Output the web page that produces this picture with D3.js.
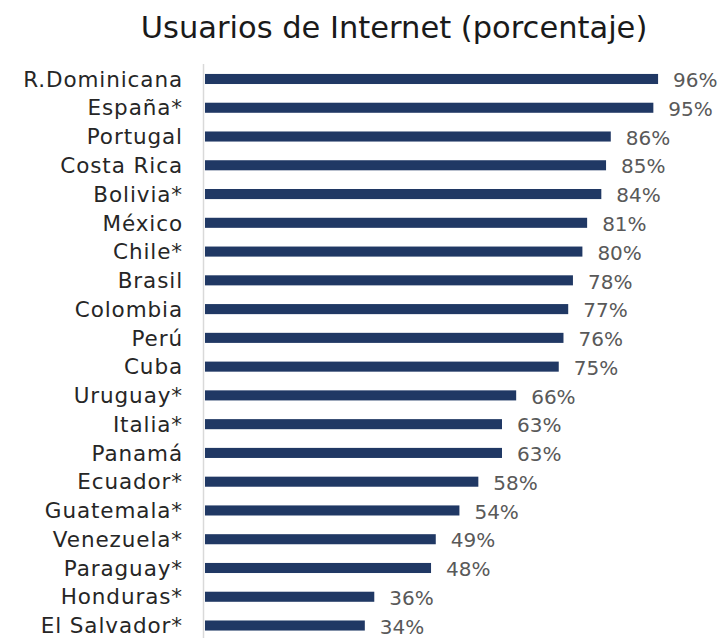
<!DOCTYPE html>
<html>
<head>
<meta charset="utf-8">
<script src="https://cdn.jsdelivr.net/npm/d3@7"></script>
<style>
  body { margin: 0; background: #fff; }
  svg { display: block; font-family: "DejaVu Sans", sans-serif; }
</style>
</head>
<body>
<div class="container"></div>
<script>
// 数据
const countries = ["R.Dominicana", "España*", "Portugal", "Costa Rica", "Bolivia*", "México", "Chile*",
  "Brasil", "Colombia", "Perú", "Cuba", "Uruguay*", "Italia*", "Panamá", "Ecuador*", "Guatemala*",
  "Venezuela*", "Paraguay*", "Honduras*", "El Salvador*"];
const values = [96, 95, 86, 85, 84, 81, 80, 78, 77, 76, 75, 66, 63, 63, 58, 54, 49, 48, 36, 34];
const title = "Usuarios de Internet (porcentaje)";

const width = 722, height = 638;

const svg = d3.select(".container")
  .append("svg")
  .attr("width", width)
  .attr("height", height);

// 比例尺
const x = d3.scaleLinear().domain([0, 100]).range([204, 204 + 473]);
const y = d3.scaleBand()
  .domain(countries)
  .range([64.6, 639.9])
  .paddingInner(0.65)
  .paddingOuter(0.325);

// 标题
svg.append("text")
  .attr("x", 394)
  .attr("y", 38)
  .attr("text-anchor", "middle")
  .attr("fill", "#1a1a1a")
  .style("font-size", "30.5px")
  .text(title);

// 纵轴线
svg.append("line")
  .attr("x1", x(0) - 0.5).attr("x2", x(0) - 0.5)
  .attr("y1", 64).attr("y2", height)
  .attr("stroke", "#d9d9d9")
  .attr("stroke-width", 1.5);

const rows = countries.map((c, i) => ({ c, v: values[i] }));

// 类别标签
svg.selectAll(".cat")
  .data(rows)
  .enter()
  .append("text")
  .attr("class", "cat")
  .attr("x", 183)
  .attr("y", d => y(d.c) + y.bandwidth() / 2)
  .attr("dy", "0.36em")
  .attr("text-anchor", "end")
  .attr("fill", "#262626")
  .style("font-size", "21.5px")
  .style("letter-spacing", "0.9px")
  .text(d => d.c);

// 条形
svg.selectAll(".bar")
  .data(rows)
  .enter()
  .append("rect")
  .attr("class", "bar")
  .attr("x", x(0) + 1)
  .attr("y", d => y(d.c))
  .attr("width", d => x(d.v) - x(0) - 1)
  .attr("height", y.bandwidth())
  .attr("fill", "#203864");

// 数值标签
svg.selectAll(".val")
  .data(rows)
  .enter()
  .append("text")
  .attr("class", "val")
  .attr("x", d => x(d.v) + 15)
  .attr("y", d => y(d.c) + y.bandwidth() / 2 + 1)
  .attr("dy", "0.36em")
  .attr("fill", "#595959")
  .style("font-size", "20px")
  .text(d => d.v + "%");
</script>
</body>
</html>
